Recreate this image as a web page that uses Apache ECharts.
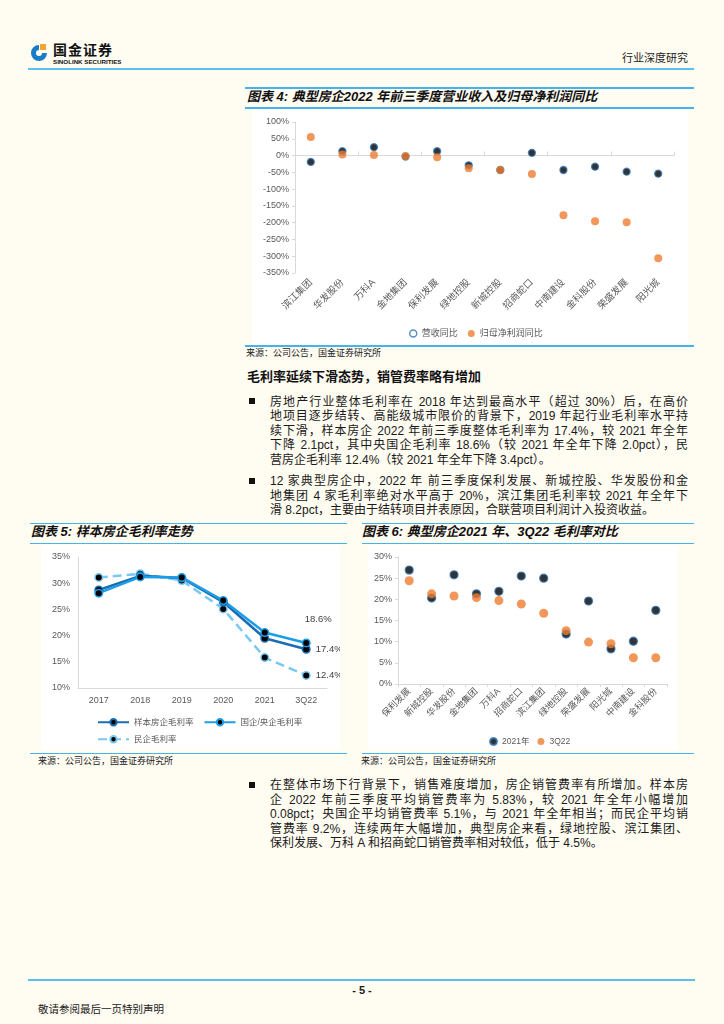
<!DOCTYPE html>
<html>
<head>
<meta charset="utf-8">
<script src="https://cdn.jsdelivr.net/npm/echarts@6/dist/echarts.min.js"></script>
<style>
  html,body{margin:0;padding:0;}
  body{width:724px;height:1024px;background:#fffcf2;position:relative;overflow:hidden;
       font-family:"Liberation Sans","Noto Sans CJK SC",sans-serif;color:#1a1a1a;}
  .abs{position:absolute;}
  .hline{position:absolute;height:1.5px;background:#45b4ec;}
  .title{position:absolute;font-size:13px;font-weight:bold;font-style:italic;line-height:16px;white-space:nowrap;color:#111;}
  .src{position:absolute;font-size:9px;line-height:11px;white-space:nowrap;color:#222;}
  .ln{position:absolute;left:270px;width:418px;font-size:12px;line-height:14px;height:14px;
      text-align:justify;text-align-last:justify;color:#1a1a1a;}
  .ln.last{text-align-last:left;}
  .sq{position:absolute;left:249px;width:6px;height:6px;background:#111;}
  .panel{position:absolute;background:#ffffff;}
</style>
</head>
<body>
<!-- header -->
<svg class="abs" style="left:29px;top:43px" width="20" height="20" viewBox="0 0 20 20">
  <path d="M10 2 A8 8 0 1 0 18 10 L13 10 A3 3 0 1 1 10 7 Z" fill="#1a7cc6"/>
  <rect x="11" y="1" width="6" height="6" fill="#f0a630"/>
</svg>
<div class="abs" style="left:53px;top:42px;font-size:14px;font-weight:bold;line-height:16px;letter-spacing:1px;color:#111;">国金证券</div>
<div class="abs" style="left:53px;top:58px;font-size:6.2px;font-weight:bold;line-height:8px;white-space:nowrap;color:#111;">SINOLINK SECURITIES</div>
<div class="abs" style="left:622px;top:51px;font-size:11px;line-height:14px;color:#222;">行业深度研究</div>
<div class="hline" style="left:28px;width:666px;top:68px;height:2px;background:#5cc0ef;"></div>

<!-- chart 4 -->
<div class="hline" style="left:245px;width:449px;top:87px;"></div>
<div class="title" style="left:247px;top:89px;">图表 4:&nbsp;典型房企2022 年前三季度营业收入及归母净利润同比</div>
<div class="hline" style="left:245px;width:449px;top:107px;"></div>
<div class="panel" id="c4" style="left:252px;top:110px;width:436px;height:234px;"></div>
<div class="hline" style="left:245px;width:449px;top:345px;"></div>
<div class="src" style="left:246px;top:348px;">来源：公司公告，国金证券研究所</div>

<!-- text block 1 -->
<div class="abs" style="left:247px;top:369px;font-size:13px;font-weight:bold;line-height:16px;color:#111;">毛利率延续下滑态势，销管费率略有增加</div>
<div class="sq" style="top:398px;"></div>
<div class="ln" style="top:394.5px;">房地产行业整体毛利率在 2018 年达到最高水平（超过 30%）后，在高价</div>
<div class="ln" style="top:409px;">地项目逐步结转、高能级城市限价的背景下，2019 年起行业毛利率水平持</div>
<div class="ln" style="top:423.5px;">续下滑，样本房企 2022 年前三季度整体毛利率为 17.4%，较 2021 年全年</div>
<div class="ln" style="top:438px;">下降 2.1pct，其中央国企毛利率 18.6%（较 2021 年全年下降 2.0pct），民</div>
<div class="ln last" style="top:452.5px;">营房企毛利率 12.4%（较 2021 年全年下降 3.4pct）。</div>
<div class="sq" style="top:477.5px;"></div>
<div class="ln" style="top:474px;">12 家典型房企中，2022 年 前三季度保利发展、新城控股、华发股份和金</div>
<div class="ln" style="top:488.5px;">地集团 4 家毛利率绝对水平高于 20%，滨江集团毛利率较 2021 年全年下</div>
<div class="ln last" style="top:503px;">滑 8.2pct，主要由于结转项目并表原因，合联营项目利润计入投资收益。</div>

<!-- chart 5 -->
<div class="hline" style="left:30px;width:317px;top:522.5px;"></div>
<div class="title" style="left:31px;top:524px;">图表 5:&nbsp;样本房企毛利率走势</div>
<div class="hline" style="left:30px;width:317px;top:542.5px;"></div>
<div class="panel" id="c5" style="left:41px;top:545px;width:299px;height:205px;"></div>
<div class="hline" style="left:30px;width:317px;top:752.5px;"></div>
<div class="src" style="left:38px;top:755.5px;">来源：公司公告，国金证券研究所</div>

<!-- chart 6 -->
<div class="hline" style="left:362px;width:332px;top:522.5px;"></div>
<div class="title" style="left:362px;top:524px;">图表 6:&nbsp;典型房企2021 年、3Q22 毛利率对比</div>
<div class="hline" style="left:362px;width:332px;top:542.5px;"></div>
<div class="panel" id="c6" style="left:368px;top:545px;width:310px;height:205px;"></div>
<div class="hline" style="left:362px;width:332px;top:752.5px;"></div>
<div class="src" style="left:361px;top:755.5px;">来源：公司公告，国金证券研究所</div>

<!-- text block 2 -->
<div class="sq" style="top:782px;"></div>
<div class="ln" style="top:778px;">在整体市场下行背景下，销售难度增加，房企销管费率有所增加。样本房</div>
<div class="ln" style="top:792.5px;">企 2022 年前三季度平均销管费率为 5.83%，较 2021 年全年小幅增加</div>
<div class="ln" style="top:807px;">0.08pct；央国企平均销管费率 5.1%，与 2021 年全年相当；而民企平均销</div>
<div class="ln" style="top:821.5px;">管费率 9.2%，连续两年大幅增加，典型房企来看，绿地控股、滨江集团、</div>
<div class="ln last" style="top:836px;">保利发展、万科 A 和招商蛇口销管费率相对较低，低于 4.5%。</div>

<!-- footer -->
<div class="hline" style="left:28px;width:667px;top:979px;height:2px;background:#5cc0ef;"></div>
<div class="abs" style="left:340px;width:44px;text-align:center;top:984px;font-size:11px;font-weight:bold;line-height:13px;">- 5 -</div>
<div class="abs" style="left:38px;top:1003px;font-size:10.5px;line-height:13px;color:#222;">敬请参阅最后一页特别声明</div>

<script>
// ---------- data ----------
var companies4 = ['滨江集团','华发股份','万科A','金地集团','保利发展','绿地控股','新城控股','招商蛇口','中南建设','金科股份','荣盛发展','阳光城'];
var revenueYoY = [-19, 13, 25, -3, 13, -29, -43, 8, -43, -33, -48, -54];
var profitYoY  = [55, 3, 2, -1, -5, -38, -43, -55, -178, -196, -199, -306];
var yTicks4 = {min: -350, max: 100, step: 50};

var years5 = ['2017','2018','2019','2020','2021','3Q22'];
var sampleGM  = [28.7, 31.4, 31.0, 26.4, 19.5, 17.4];
var soeGM     = [28.1, 31.2, 31.1, 26.7, 20.6, 18.6];
var privateGM = [31.1, 31.8, 30.5, 25.1, 15.8, 12.4];
var yTicks5 = {min: 10, max: 35, step: 5};

var companies6 = ['保利发展','新城控股','华发股份','金地集团','万科A','招商蛇口','滨江集团','绿地控股','荣盛发展','阳光城','中南建设','金科股份'];
var gm2021 = [26.9, 20.3, 25.8, 21.3, 21.9, 25.5, 25.0, 11.8, 19.6, 8.3, 10.1, 17.4];
var gm3Q22 = [24.4, 21.3, 20.8, 20.4, 19.7, 18.9, 16.7, 12.6, 9.9, 9.5, 6.2, 6.2];
var yTicks6 = {min: 0, max: 30, step: 5};

// ---------- styles ----------
var FONT = '"Liberation Sans","Noto Sans CJK SC",sans-serif';
var AX = '#d9d9d9', LBL = '#595959';
var ORANGE = '#ED7D31', EDGE = '#2e75b6';

// ---------- chart 4 ----------
var c4 = echarts.init(document.getElementById('c4'), null, {renderer:'canvas'});
c4.setOption({
  animation:false,
  textStyle:{fontFamily:FONT},
  grid:{left:43, right:14, top:12, bottom:71},
  legend:{left:152, top:214, itemWidth:7, itemHeight:7, itemGap:10,
    textStyle:{fontSize:9, color:LBL, fontFamily:FONT},
    data:[{name:'营收同比', icon:'circle', itemStyle:{color:'#fff', borderColor:EDGE, borderWidth:1.5}},
          {name:'归母净利润同比', icon:'circle'}]},
  xAxis:[
    {type:'category', data:companies4, axisLine:{show:false, onZero:false}, axisTick:{show:false},
     axisLabel:{rotate:45, interval:0, fontSize:9.5, color:LBL, margin:8, fontFamily:FONT}},
    {type:'category', data:companies4, position:'bottom',
     axisLine:{show:true, onZero:true, lineStyle:{color:AX}},
     axisTick:{show:true, inside:true, length:4, lineStyle:{color:AX}},
     axisLabel:{show:false}}
  ],
  yAxis:{type:'value', min:yTicks4.min, max:yTicks4.max, interval:yTicks4.step,
    axisLine:{show:true, lineStyle:{color:AX}}, axisTick:{show:true, length:3, lineStyle:{color:AX}},
    splitLine:{show:false},
    axisLabel:{formatter:'{value}%', fontSize:9, color:LBL, margin:6, fontFamily:FONT}},
  series:[
    {name:'营收同比', type:'scatter', xAxisIndex:0, data:revenueYoY, symbolSize:7,
     itemStyle:{color:'#000', borderColor:EDGE, borderWidth:1.3}},
    {name:'归母净利润同比', type:'scatter', xAxisIndex:0, data:profitYoY, symbolSize:8,
     itemStyle:{color:ORANGE}}
  ]
});

// ---------- chart 5 ----------
function lastLabel(arr, lab){
  return arr.map(function(v,i){ return i===arr.length-1 ? {value:v, label:lab} : v; });
}
var labBase = {show:true, formatter:'{c}%', fontSize:9.5, color:'#404040', fontFamily:FONT};
function lineSeries(name, data, color, dashed, lab){
  return {name:name, type:'line', data:lastLabel(data, lab), symbol:'circle', symbolSize:7.5,
    showAllSymbol:true,
    lineStyle:{color:color, width:2.5, type: dashed ? [9,5] : 'solid'},
    itemStyle:{color:'#000', borderColor:color, borderWidth:1.5}};
}
var c5 = echarts.init(document.getElementById('c5'), null, {renderer:'canvas'});
c5.setOption({
  animation:false,
  textStyle:{fontFamily:FONT},
  grid:{left:37, right:13, top:12, bottom:62},
  legend:[
    {data:['样本房企毛利率','国企/央企毛利率'], left:51, top:168, itemWidth:31, itemHeight:8, itemGap:10,
     textStyle:{fontSize:8.5, color:LBL, fontFamily:FONT}},
    {data:['民企毛利率'], left:51, top:185, itemWidth:31, itemHeight:8,
     textStyle:{fontSize:8.5, color:LBL, fontFamily:FONT}}
  ],
  xAxis:{type:'category', data:years5, boundaryGap:true,
    axisLine:{show:true, lineStyle:{color:AX}}, axisTick:{show:false},
    axisLabel:{fontSize:9, color:LBL, margin:8, fontFamily:FONT}},
  yAxis:{type:'value', min:yTicks5.min, max:yTicks5.max, interval:yTicks5.step,
    axisLine:{show:true, lineStyle:{color:AX}}, axisTick:{show:false}, splitLine:{show:false},
    axisLabel:{formatter:'{value}%', fontSize:9, color:LBL, margin:8, fontFamily:FONT}},
  series:[
    lineSeries('民企毛利率', privateGM, '#79c8f2', true, Object.assign({}, labBase, {position:'right'})),
    lineSeries('样本房企毛利率', sampleGM, '#1b6db3', false, Object.assign({}, labBase, {position:'right'})),
    lineSeries('国企/央企毛利率', soeGM, '#1c9ee6', false, Object.assign({}, labBase, {position:'top', offset:[12,-9]}))
  ]
});

// ---------- chart 6 ----------
var c6 = echarts.init(document.getElementById('c6'), null, {renderer:'canvas'});
c6.setOption({
  animation:false,
  textStyle:{fontFamily:FONT},
  grid:{left:30, right:11, top:12, bottom:66},
  legend:{left:116, top:187, itemWidth:7, itemHeight:7, itemGap:8,
    textStyle:{fontSize:8.5, color:LBL, fontFamily:FONT},
    data:[{name:'2021年', icon:'circle'}, {name:'3Q22', icon:'circle'}]},
  xAxis:{type:'category', data:companies6,
    axisLine:{show:true, lineStyle:{color:AX}},
    axisTick:{show:true, length:3, lineStyle:{color:AX}},
    axisLabel:{rotate:45, interval:0, fontSize:9, color:LBL, margin:6, fontFamily:FONT}},
  yAxis:{type:'value', min:yTicks6.min, max:yTicks6.max, interval:yTicks6.step,
    axisLine:{show:true, lineStyle:{color:AX}}, axisTick:{show:true, length:3, lineStyle:{color:AX}},
    splitLine:{show:false},
    axisLabel:{formatter:'{value}%', fontSize:9, color:LBL, margin:6, fontFamily:FONT}},
  series:[
    {name:'2021年', type:'scatter', data:gm2021, symbolSize:8,
     itemStyle:{color:'#000', borderColor:EDGE, borderWidth:1.3}},
    {name:'3Q22', type:'scatter', data:gm3Q22, symbolSize:9, itemStyle:{color:ORANGE}}
  ]
});
</script>
</body>
</html>
